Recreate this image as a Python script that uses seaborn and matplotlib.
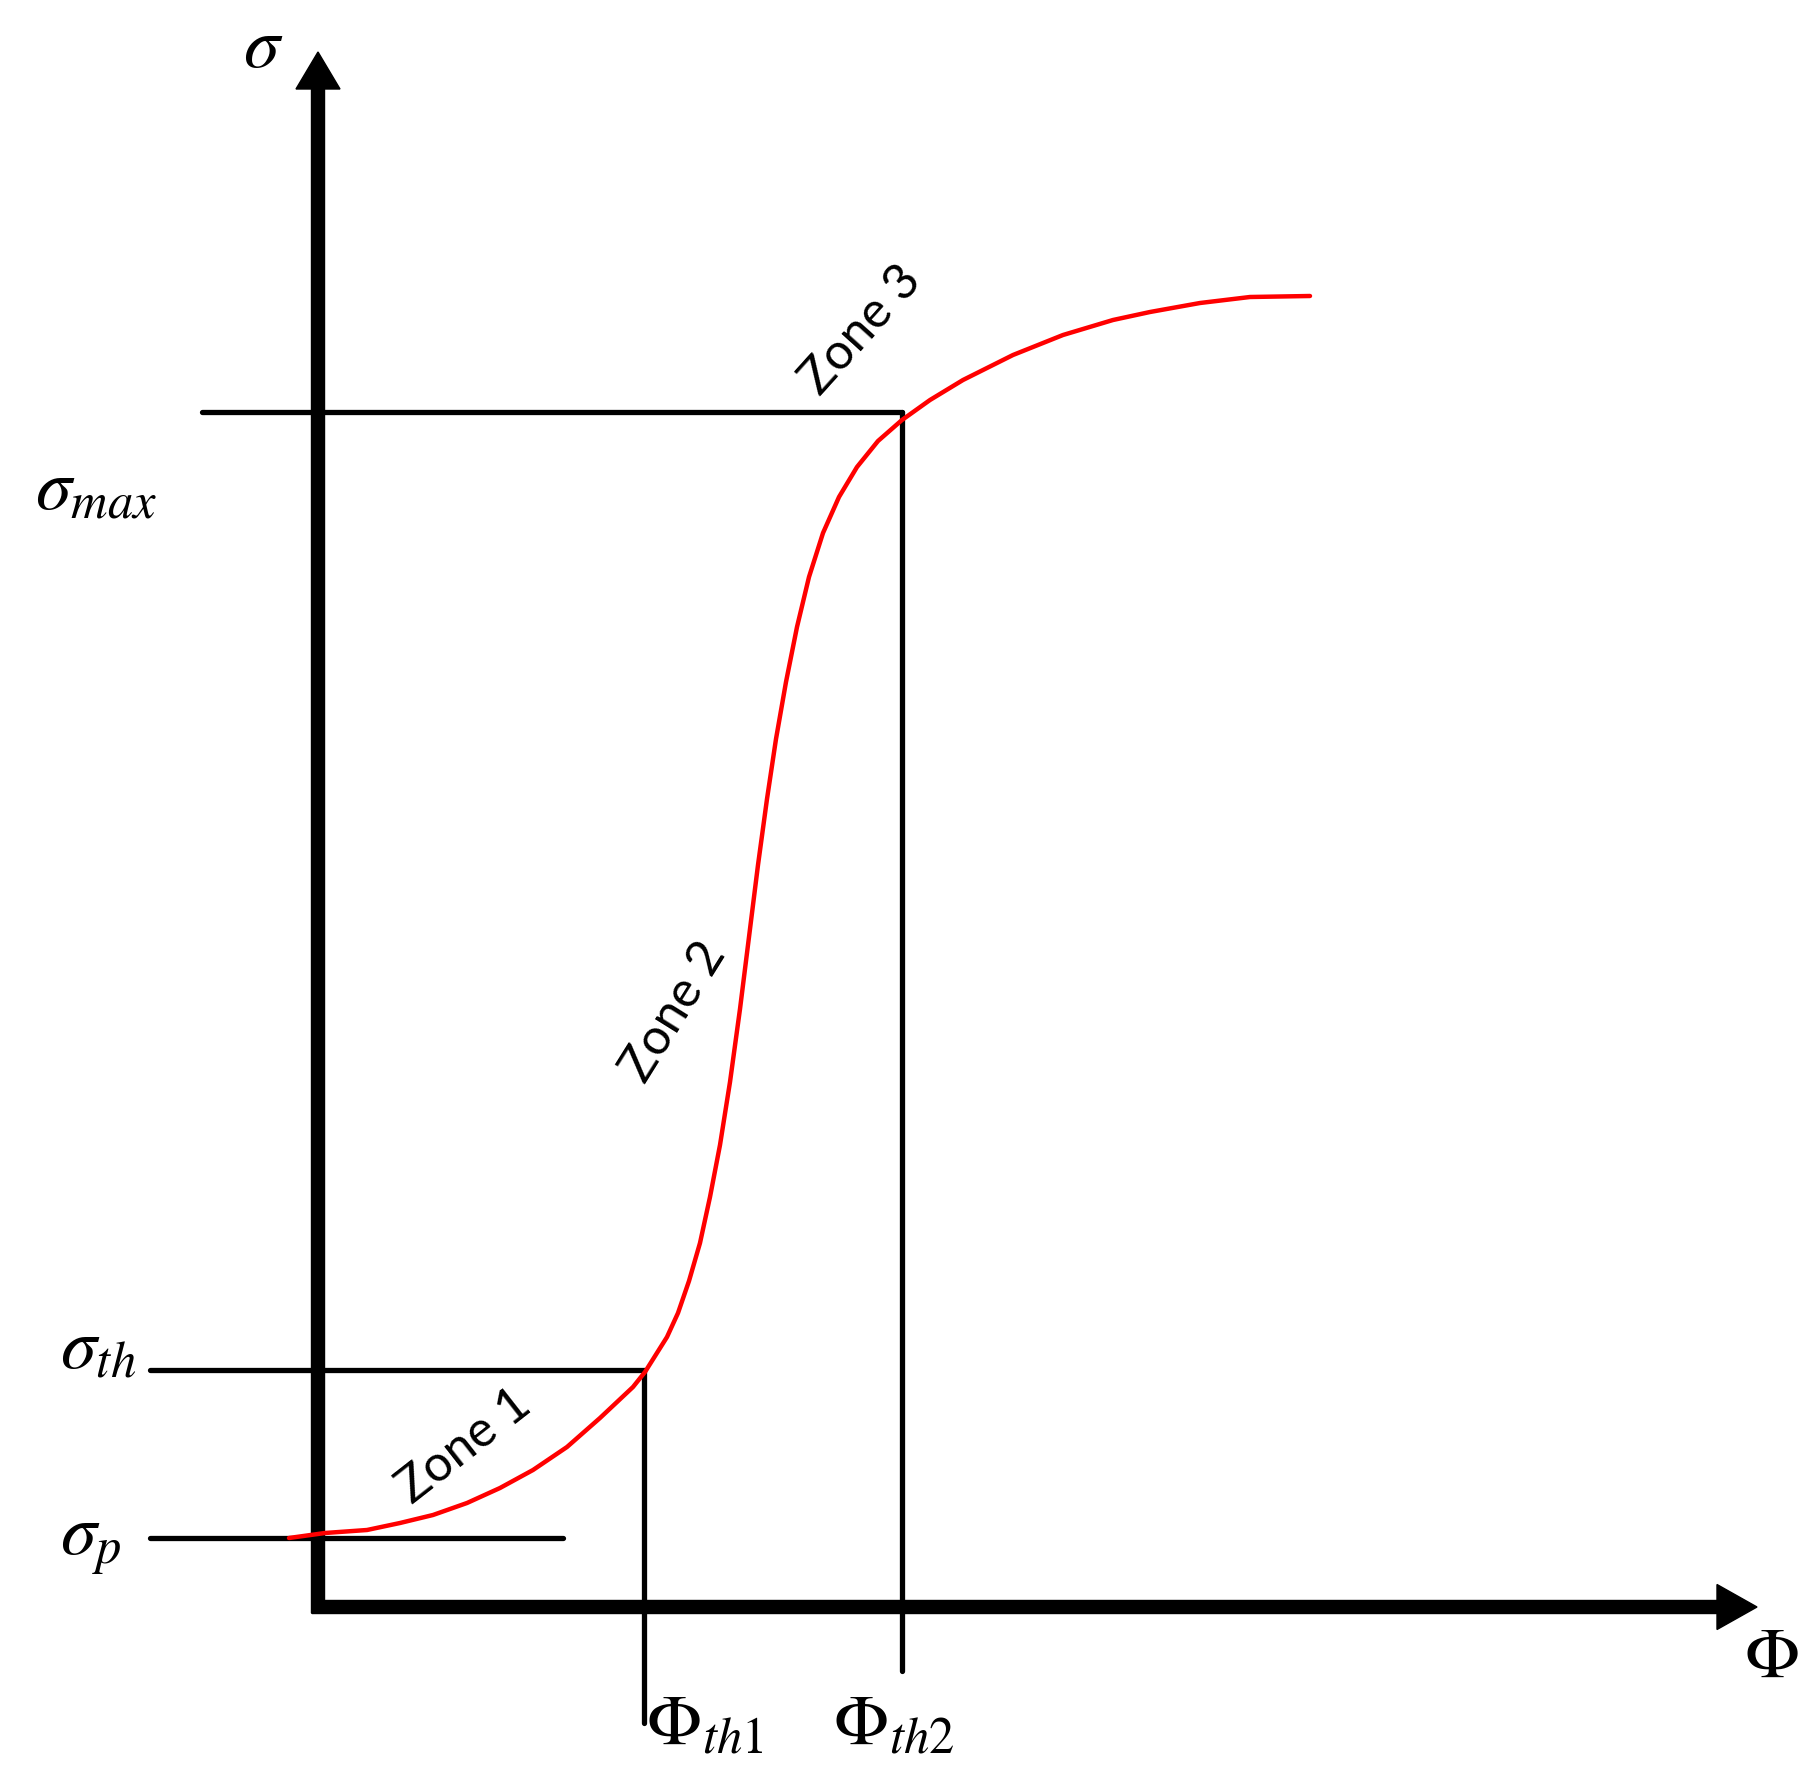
import numpy as np
import pandas as pd
import matplotlib
matplotlib.use("Agg")
import matplotlib.pyplot as plt
import seaborn as sns

# curve (Phi, sigma), origin at the axes corner
phi_vals = [-0.29, 0.07, 0.49, 0.82, 1.15, 1.49, 1.82, 2.15, 2.49, 2.82, 3.15, 3.27,
            3.49, 3.60, 3.71, 3.82, 3.92, 4.02, 4.12, 4.22, 4.31, 4.40, 4.49, 4.58, 4.68,
            4.79, 4.91, 5.05, 5.21, 5.39, 5.60, 5.84, 6.12, 6.45, 6.95, 7.45, 7.95,
            8.32, 8.82, 9.32, 9.92]
sigma_vals = [0.69, 0.74, 0.77, 0.84, 0.92, 1.04, 1.19, 1.37, 1.60, 1.89, 2.20, 2.35,
              2.70, 2.94, 3.26, 3.64, 4.10, 4.62, 5.25, 5.98, 6.70, 7.42, 8.08, 8.68, 9.25,
              9.80, 10.30, 10.74, 11.10, 11.40, 11.66, 11.87, 12.07, 12.27, 12.52, 12.72, 12.87,
              12.95, 13.04, 13.10, 13.11]

# threshold levels
sigma_p = 0.69
sigma_th = 2.37
sigma_max = 11.95
phi_th1 = 3.26
phi_th2 = 5.84

zone_labels = ["Zone 1", "Zone 2", "Zone 3"]

sns.set_style("white")
plt.rcParams["mathtext.fontset"] = "stix"
plt.rcParams["text.color"] = "black"

fig = plt.figure(figsize=(18.13, 17.82), dpi=100)
ax = fig.add_axes([0, 0, 1, 1])
ax.set_xlim(-3.18, 14.95)
ax.set_ylim(-1.75, 16.07)
ax.axis("off")

# axes with arrows
ax.arrow(0, -0.06, 0, 15.61, width=0.13, head_width=0.44, head_length=0.37,
         length_includes_head=True, color="black", zorder=3)
ax.arrow(-0.06, 0, 14.45, 0, width=0.13, head_width=0.45, head_length=0.40,
         length_includes_head=True, color="black", zorder=3)

# guide lines
lw = 3.8
ax.plot([-1.16, phi_th2], [sigma_max, sigma_max], color="black", lw=lw)
ax.plot([phi_th2, phi_th2], [sigma_max, -0.64], color="black", lw=lw)
ax.plot([-1.68, phi_th1], [sigma_th, sigma_th], color="black", lw=lw)
ax.plot([phi_th1, phi_th1], [sigma_th, -1.16], color="black", lw=lw)
ax.plot([-1.68, 2.45], [sigma_p, sigma_p], color="black", lw=lw)

# red curve
df = pd.DataFrame({"phi": phi_vals, "sigma": sigma_vals})
sns.lineplot(data=df, x="phi", y="sigma", color="red", lw=3.2, sort=False,
             estimator=None, ax=ax, zorder=4, solid_joinstyle="round")
ax.set_xlabel("")
ax.set_ylabel("")

# labels
fs = 52
ax.text(-0.75, 15.40, r"$\sigma$", fontsize=fs, ha="left", va="baseline")
ax.text(14.26, -0.70, r"$\Phi$", fontsize=fs, ha="left", va="baseline")
ax.text(3.28, -1.37, r"$\Phi_{th1}$", fontsize=fs, ha="left", va="baseline")
ax.text(5.15, -1.37, r"$\Phi_{th2}$", fontsize=fs, ha="left", va="baseline")
ax.text(-2.58, 2.39, r"$\sigma_{th}$", fontsize=fs, ha="left", va="baseline")
ax.text(-2.58, 0.52, r"$\sigma_p$", fontsize=fs, ha="left", va="baseline")
ax.text(-2.83, 10.98, r"$\sigma_{max}$", fontsize=fs, ha="left", va="baseline")

zfs = 36
ax.text(1.46, 1.61, zone_labels[0], fontsize=zfs, family="Lato", rotation=38,
        ha="center", va="center", rotation_mode="anchor")
ax.text(3.56, 5.95, zone_labels[1], fontsize=zfs, family="Lato", rotation=58,
        ha="center", va="center", rotation_mode="anchor")
ax.text(5.43, 12.77, zone_labels[2], fontsize=zfs, family="Lato", rotation=48,
        ha="center", va="center", rotation_mode="anchor")

fig.savefig("out.png", dpi=100, facecolor="white")
